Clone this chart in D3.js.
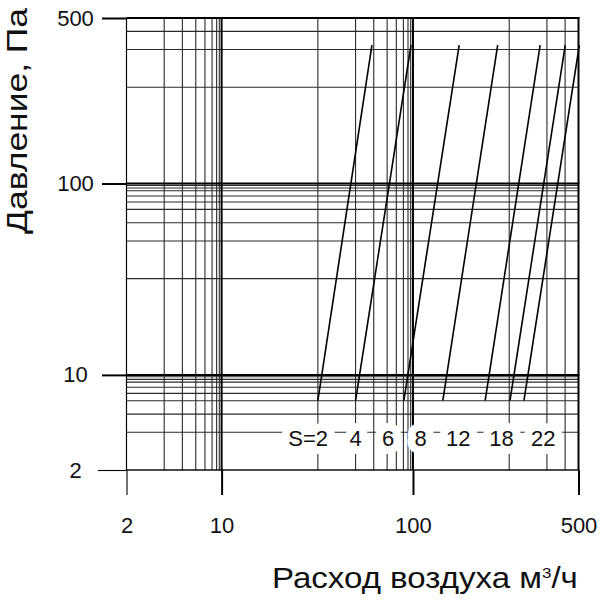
<!DOCTYPE html>
<html>
<head>
    <meta charset="utf-8">
    <title>Расход воздуха - давление</title>
    <script src="https://d3js.org/d3.v7.min.js"></script>
    <style>
        body { margin: 0; background: #fff; }
        svg text { font-family: "Liberation Sans", Arial, sans-serif; fill: #111; }
    </style>
</head>
<body>
<script>
    // axis ticks (m3/h and Pa)
    const xTicks = [2, 10, 100, 500];
    const yTicks = [2, 10, 100, 500];

    // grid lines
    const xGrid = [2, 3, 4, 5, 6, 7, 8, 9, 10, 20, 30, 40, 50, 60, 70, 80, 90, 100, 200, 300, 400, 500];
    const yGrid = [2, 3, 4, 5, 5.8, 6.6, 7.5, 8.2, 9.2, 10, 20, 30, 40, 50, 58, 66, 75, 82, 92,
                   100, 200, 300, 400, 500];
    const majorX = [10, 100, 500];
    const majorY = [10, 100, 500];

    // the chart's own (non standard) decade division: mantissa -> share of a decade
    const mantissa = [1, 2, 3, 4, 5, 6, 7, 8, 9, 10];
    const decadeShare = [0, 0.503, 0.70, 0.795, 0.865, 0.913, 0.95, 0.974, 0.988, 1];

    // lines S = ...
    const sizes = ["S=2", "4", "6", "8", "12", "18", "22"];
    const flowLow = [20, 30, 71, 131, 175, 202, 239];
    const flowHigh = [39, 91.5, 148, 188, 282, 401, 509];
    const pressLow = 5;
    const pressHigh = 325;
    const labelFlow = [19, 30, 51, 108, 147, 192, 290];
    const labelPress = 2.85;

    const width = 600, height = 604;
    const margin = {top: 18, right: 21.5, bottom: 134, left: 126.5};

    const warp = d3.scaleLinear().domain(mantissa).range(decadeShare);
    function t(v) {
        const e = Math.floor(Math.log10(v) + 1e-9);
        return e + warp(v / Math.pow(10, e));
    }

    const x = d3.scaleLinear()
        .domain([t(2), t(500)])
        .range([margin.left, width - margin.right]);
    const y = d3.scaleLinear()
        .domain([t(2), t(500)])
        .range([height - margin.bottom, margin.top]);
    const X = v => x(t(v));
    const Y = v => y(t(v));

    const svg = d3.select("body")
        .append("svg")
        .attr("width", width)
        .attr("height", height);

    const x0 = margin.left, x1 = width - margin.right;
    const y0 = height - margin.bottom, y1 = margin.top;

    // minor grid
    svg.append("g")
        .selectAll("line")
        .data(xGrid.filter(v => !majorX.includes(v)))
        .join("line")
        .attr("x1", d => X(d)).attr("x2", d => X(d))
        .attr("y1", y1).attr("y2", y0)
        .style("stroke", "#2a2a2a")
        .style("stroke-width", 1.1);

    svg.append("g")
        .selectAll("line")
        .data(yGrid.filter(v => !majorY.includes(v)))
        .join("line")
        .attr("x1", x0).attr("x2", x1)
        .attr("y1", d => Y(d)).attr("y2", d => Y(d))
        .style("stroke", "#2a2a2a")
        .style("stroke-width", 1.1);

    // major grid
    svg.append("g")
        .selectAll("line")
        .data(majorX)
        .join("line")
        .attr("x1", d => X(d)).attr("x2", d => X(d))
        .attr("y1", y1 - 1).attr("y2", y0)
        .style("stroke", "#000")
        .style("stroke-width", 2);

    svg.append("g")
        .selectAll("line")
        .data(majorY)
        .join("line")
        .attr("x1", x0).attr("x2", x1 + 1)
        .attr("y1", d => Y(d)).attr("y2", d => Y(d))
        .style("stroke", "#000")
        .style("stroke-width", 2);

    // axes
    const xAxis = svg.append("g")
        .attr("transform", `translate(0,${y0})`)
        .call(d3.axisBottom(x)
            .tickValues(xTicks.map(t))
            .tickFormat((d, i) => xTicks[i])
            .tickSize(25)
            .tickPadding(22));
    xAxis.select(".domain").remove();
    xAxis.selectAll(".tick line")
        .style("stroke", "#000")
        .style("stroke-width", (d, i) => xTicks[i] === 2 ? 1.1 : 2);
    xAxis.selectAll(".tick text")
        .style("font-size", "22px")
        .style("font-family", '"Liberation Sans", Arial, sans-serif')
        .style("fill", "#111");

    const yAxis = svg.append("g")
        .attr("transform", `translate(${x0},0)`)
        .call(d3.axisLeft(y)
            .tickValues(yTicks.map(t))
            .tickFormat((d, i) => yTicks[i])
            .tickSize(0));
    yAxis.select(".domain").remove();
    yAxis.selectAll(".tick line")
        .attr("x2", (d, i) => yTicks[i] === 2 ? -28.5 : -24.5)
        .style("stroke", "#000")
        .style("stroke-width", (d, i) => yTicks[i] === 2 ? 1.1 : 2);
    yAxis.selectAll(".tick text")
        .attr("x", -51)
        .attr("text-anchor", "middle")
        .style("font-size", "22px")
        .style("font-family", '"Liberation Sans", Arial, sans-serif')
        .style("fill", "#111");

    // plot frame on the low sides
    svg.append("line")
        .attr("x1", x0).attr("x2", x0).attr("y1", y1).attr("y2", y0)
        .style("stroke", "#000").style("stroke-width", 1.1);
    svg.append("line")
        .attr("x1", x0).attr("x2", x1).attr("y1", y0).attr("y2", y0)
        .style("stroke", "#000").style("stroke-width", 1.1);

    // S lines
    const line = d3.line().x(d => X(d[0])).y(d => Y(d[1]));
    svg.append("g")
        .selectAll("path")
        .data(sizes.map((s, i) => [[flowLow[i], pressLow], [flowHigh[i], pressHigh]]))
        .join("path")
        .attr("d", line)
        .style("fill", "none")
        .style("stroke", "#000")
        .style("stroke-width", 1.6);

    svg.append("g")
        .selectAll("text")
        .data(sizes)
        .join("text")
        .attr("x", (d, i) => X(labelFlow[i]))
        .attr("y", Y(labelPress))
        .attr("dy", "0.36em")
        .attr("text-anchor", "middle")
        .style("font-size", "22px")
        .style("stroke", "#fff")
        .style("stroke-width", 16)
        .style("stroke-linejoin", "round")
        .style("paint-order", "stroke")
        .text(d => d);

    // titles
    const yTitle = svg.append("text")
        .style("font-size", "29px")
        .attr("text-anchor", "middle")
        .text("Давление, Па");
    const ySx = 226 / yTitle.node().getComputedTextLength();
    yTitle.attr("transform", `translate(26.5,121) rotate(-90) scale(${ySx},1)`);

    const xTitle = svg.append("text")
        .style("font-size", "29px");
    xTitle.append("tspan").text("Расход воздуха м");
    xTitle.append("tspan").attr("dy", -10).style("font-size", "15px").text("3");
    xTitle.append("tspan").attr("dy", 10).text("/ч");
    const xSx = 306 / xTitle.node().getComputedTextLength();
    xTitle.attr("transform", `translate(272,588) scale(${xSx},1)`);
</script>
</body>
</html>
